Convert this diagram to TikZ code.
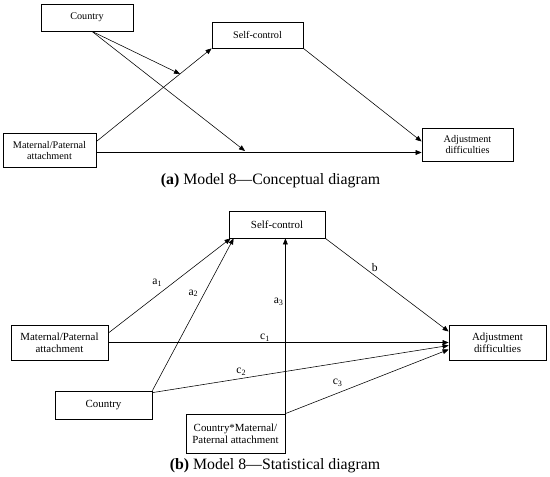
\documentclass[tikz,border=0pt]{standalone}
\usepackage{fontspec}
\setmainfont{Liberation Serif}
\usetikzlibrary{arrows.meta,positioning,calc}

\begin{document}
\begin{tikzpicture}[x=0.5mm, y=-0.5mm,
    box/.style={draw, line width=1.1pt, inner sep=0pt, align=center},
    boxa/.style={font=\fontsize{14.5}{16}\selectfont},
    boxb/.style={font=\fontsize{15.5}{17.5}\selectfont},
    arr/.style={-{Triangle[length=3mm, width=2.4mm]}, line width=0.8pt},
    lbl/.style={inner sep=1pt, font=\fontsize{16.5}{18}\selectfont},
    captext/.style={inner sep=0pt, font=\fontsize{22.5}{24}\selectfont}]
    \useasboundingbox (0,0) rectangle (550,476);

    % (a) conceptual diagram
    \node[box, boxa, minimum width=46mm, minimum height=13.5mm] (countryA) at (87,17.5) {Country};
    \node[box, boxa, minimum width=45.5mm, minimum height=13mm] (selfA) at (257.5,35) {Self-control};
    \node[box, boxa, minimum width=46.5mm, minimum height=17mm] (attachA) at (49.5,150.5) {Maternal/Paternal\\attachment};
    \node[box, boxa, minimum width=45.5mm, minimum height=16.5mm] (adjustA) at (467.5,144.5) {Adjustment\\difficulties};

    % moderation by country
    \coordinate (ctyA) at ([xshift=2.5mm]countryA.south);
    \coordinate (modA1) at (180,74);
    \coordinate (modA2) at (245,151);
    \draw[arr] (ctyA) -- (modA1);
    \draw[arr] (ctyA) -- (modA2);

    % paths
    \coordinate (attA1) at ([yshift=-1mm]attachA.east);
    \draw[arr] ([yshift=4.5mm]attachA.east) -- (selfA.south west);
    \draw[arr] (attA1) -- (attA1 -| adjustA.west);
    \draw[arr] (selfA.south east) -- ([yshift=1.5mm]adjustA.west);

    \node[captext] (capA) at (270.5,181) {\textbf{(a)} Model 8---Conceptual diagram};

    % (b) statistical diagram
    \node[box, boxb, minimum width=48mm, minimum height=13.5mm] (selfB) at (277,224.5) {Self-control};
    \node[box, boxb, minimum width=48.5mm, minimum height=17.5mm] (attachB) at (59.5,342.5) {Maternal/Paternal\\attachment};
    \node[box, boxb, minimum width=48.5mm, minimum height=14mm] (countryB) at (103.5,405) {Country};
    \node[box, boxb, minimum width=49.5mm, minimum height=19.5mm] (interB) at (235.5,433.5) {Country*Maternal/\\Paternal attachment};
    \node[box, boxb, minimum width=48.5mm, minimum height=17.5mm] (adjustB) at (497.5,342.5) {Adjustment\\difficulties};

    % a paths
    \draw[arr] ([yshift=4.75mm]attachB.east) -- node[lbl, pos=.4, yshift=6mm] {a\textsubscript{1}} ([xshift=1mm]selfB.south west);
    \draw[arr] (countryB.north east) -- node[lbl, pos=.64, xshift=-5.5mm] {a\textsubscript{2}} ([xshift=2.5mm]selfB.south west);
    \draw[arr] (interB.north east) -- node[lbl, pos=.64, left=0.5mm] {a\textsubscript{3}} (interB.north east |- selfB.south);

    % b and c paths
    \draw[arr] (selfB.south east) -- node[lbl, pos=.4, yshift=4mm] {b} ([yshift=5.5mm]adjustB.west);
    \draw[arr] (attachB.east) -- node[lbl, pos=.46, above=0pt] {c\textsubscript{1}} (adjustB.west);
    \draw[arr] ([yshift=-1mm]countryB.north east) -- node[lbl, pos=.3, yshift=3.5mm] {c\textsubscript{2}} ([yshift=-1.5mm]adjustB.west);
    \draw[arr] (interB.north east) -- node[lbl, pos=.32, yshift=5mm] {c\textsubscript{3}} ([yshift=-3.5mm]adjustB.west);

    \node[captext] (capB) at (275,466) {\textbf{(b)} Model 8---Statistical diagram};
\end{tikzpicture}
\end{document}
